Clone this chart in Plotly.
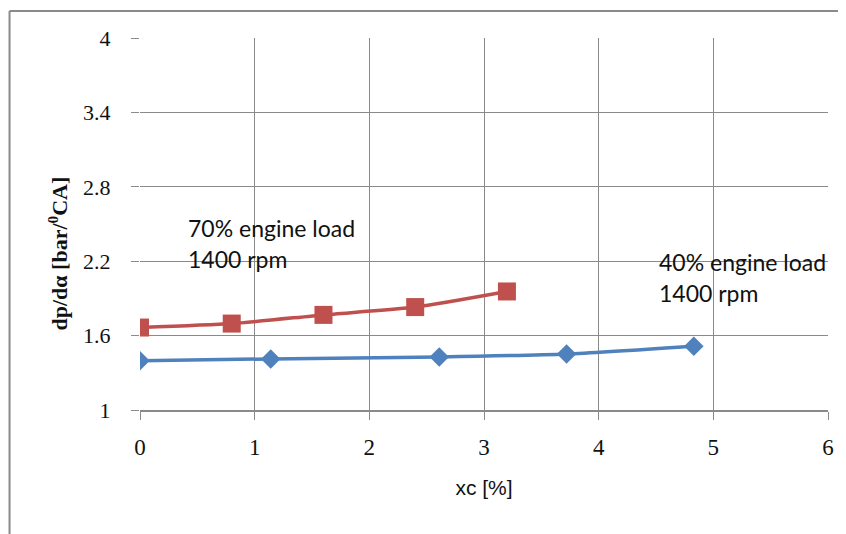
import plotly.graph_objects as go

# 70% engine load, 1400 rpm
x_70 = [0.0, 0.8, 1.6, 2.4, 3.2]
y_70 = [1.665, 1.697, 1.767, 1.83, 1.956]

# 40% engine load, 1400 rpm
x_40 = [0.0, 1.14, 2.61, 3.72, 4.83]
y_40 = [1.398, 1.412, 1.428, 1.452, 1.515]

x_ticks = [0, 1, 2, 3, 4, 5, 6]
y_ticks = [1, 1.6, 2.2, 2.8, 3.4, 4]

RED = "#C0504D"
BLUE = "#4F81BD"
GRID = "#8a8a8a"

# page body has an 8px offset; margins compensate for it
L, R, T, B = 131.5, 26.3, 30, 132
W, H = 846, 534
PW, PH = W - L - R, H - T - B

def px_x(fx):
    return (fx - L) / PW

def px_y(fy):
    return 1 - (fy - T) / PH

fig = go.Figure()
fig.add_trace(go.Scatter(
    x=x_40, y=y_40, mode="lines+markers",
    line=dict(color=BLUE, width=3.5, shape="spline", smoothing=0.6),
    marker=dict(symbol="diamond", size=15, color=BLUE),
    showlegend=False))
fig.add_trace(go.Scatter(
    x=x_70, y=y_70, mode="lines+markers",
    line=dict(color=RED, width=3.5, shape="spline", smoothing=0.6),
    marker=dict(symbol="square", size=18, color=RED),
    showlegend=False))

ann_font = dict(family="Lato, Open Sans, sans-serif", size=23, color="#111")
for txt, xx, yy in [("70% engine load", 0.40, 2.47), ("1400 rpm", 0.40, 2.215),
                    ("40% engine load", 4.51, 2.195), ("1400 rpm", 4.51, 1.94)]:
    fig.add_annotation(x=xx, y=yy, text=txt, showarrow=False, xanchor="left",
                       yanchor="middle", font=ann_font)

# y-axis title
fig.add_annotation(xref="paper", yref="paper", x=px_x(49), y=px_y(246),
                   text="<b>dp/dα [bar/<sup>0</sup>CA]</b>", textangle=-90,
                   showarrow=False, xanchor="center", yanchor="middle",
                   font=dict(family="Liberation Serif, serif", size=22, color="#111"))

# outer chart frame (top and left edges visible)
fig.add_shape(type="line", xref="paper", yref="paper", x0=px_x(1), x1=px_x(W + 10),
              y0=px_y(3), y1=px_y(3), line=dict(color=GRID, width=2))
fig.add_shape(type="line", xref="paper", yref="paper", x0=px_x(1), x1=px_x(1),
              y0=px_y(3), y1=px_y(H + 10), line=dict(color=GRID, width=2))

fig.update_layout(
    width=W, height=H,
    margin=dict(l=L, r=R, t=T, b=B),
    paper_bgcolor="white", plot_bgcolor="white",
    xaxis=dict(range=[0, 6], tickvals=x_ticks, showgrid=True, gridcolor=GRID,
               gridwidth=1, zeroline=False, showline=True, linecolor=GRID,
               linewidth=2, ticks="outside", ticklen=8, tickcolor=GRID,
               tickfont=dict(family="Liberation Serif, serif", size=23, color="#111"),
               ticklabelstandoff=7,
               title=dict(text="xc [%]", font=dict(family="Liberation Sans Narrow, Liberation Sans, sans-serif",
                                                   size=21, color="#111"), standoff=22)),
    yaxis=dict(range=[1, 4], tickvals=y_ticks, showgrid=True, gridcolor=GRID,
               gridwidth=1, zeroline=False, showline=False,
               ticks="outside", ticklen=8, tickcolor=GRID,
               tickfont=dict(family="Liberation Serif, serif", size=22, color="#111"),
               ticklabelstandoff=16),
)

fig.write_html("out.html")
